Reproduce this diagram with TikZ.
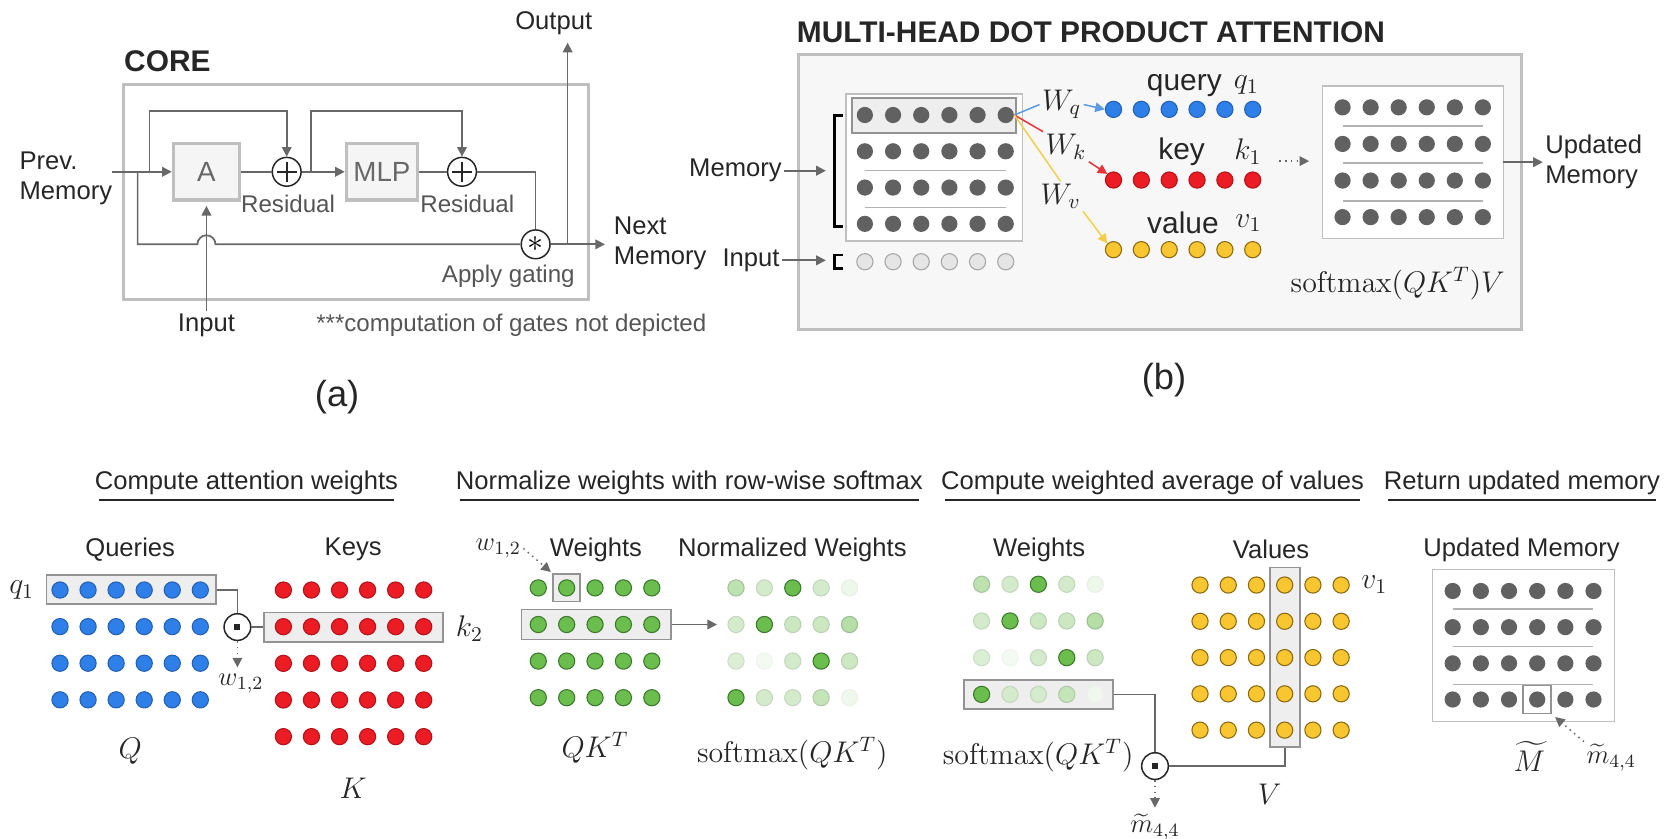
\RequirePackage{fix-cm}
\documentclass[tikz,border=0pt]{standalone}
\usepackage[no-math]{fontspec}
\setmainfont{Liberation Sans}
\usepackage{amsmath}
\usepackage{xcolor}
\usepackage{tikz}
\usetikzlibrary{arrows.meta,calc}

\definecolor{inkgray}{HTML}{686868}
\definecolor{framegray}{HTML}{BFBFBF}
\definecolor{panelfill}{HTML}{F7F7F7}
\definecolor{hlfill}{HTML}{EEEEEE}
\definecolor{txtdark}{HTML}{262626}
\definecolor{txtmid}{HTML}{555555}
\definecolor{dotblue}{HTML}{2F7FE8}
\definecolor{edgeblue}{HTML}{2461B5}
\definecolor{dotred}{HTML}{EC1C24}
\definecolor{edgered}{HTML}{B5121A}
\definecolor{dotyellow}{HTML}{F8C630}
\definecolor{edgeyellow}{HTML}{8C6A10}
\definecolor{dotgreen}{HTML}{6BBE4E}
\definecolor{edgegreen}{HTML}{3B7A2B}
\definecolor{dotgray}{HTML}{616161}
\definecolor{arrblue}{HTML}{5B9BE6}
\definecolor{arrred}{HTML}{E8323A}
\definecolor{arryellow}{HTML}{F2CF4A}

\begin{document}
\begin{tikzpicture}[
    x=0.5pt,
    y=-0.5pt,
    >={Triangle[length=4.5pt,width=4.5pt]},
    wire/.style={draw=inkgray, line width=0.8pt},
    arr/.style={wire, ->},
    dotarr/.style={->, draw=inkgray, line width=0.7pt, dotted},
    frame/.style={draw=framegray, line width=1.4pt},
    thinframe/.style={draw=framegray, line width=0.7pt, fill=white},
    hlbox/.style={draw=gray!85, fill=hlfill, line width=0.8pt, inner sep=0pt},
    opbox/.style={draw=framegray, fill=hlfill!60, line width=1.5pt,
                  minimum width=31pt, minimum height=26.5pt,
                  font=\fontsize{13}{15}\selectfont, text=inkgray},
    opcirc/.style={circle, draw=black!85, line width=0.7pt, fill=white,
                   minimum size=13.5pt, inner sep=0pt},
    plus/.style={opcirc, path picture={
        \draw[line width=0.9pt] ([xshift=-4.6pt]path picture bounding box.center)
          -- ([xshift=4.6pt]path picture bounding box.center);
        \draw[line width=0.9pt] ([yshift=-4.6pt]path picture bounding box.center)
          -- ([yshift=4.6pt]path picture bounding box.center);}},
    dotop/.style={opcirc, minimum size=12.5pt, path picture={
        \fill[black!85] ([shift={(-1.4pt,-1.4pt)}]path picture bounding box.center)
          rectangle ([shift={(1.4pt,1.4pt)}]path picture bounding box.center);}},
    dot/.style={circle, minimum size=7.6pt, inner sep=0pt, line width=0.5pt},
    bdot/.style={dot, fill=dotblue, draw=edgeblue},
    rdot/.style={dot, fill=dotred, draw=edgered},
    ydot/.style={dot, fill=dotyellow, draw=edgeyellow},
    gdot/.style={dot, fill=dotgreen, draw=edgegreen},
    mdot/.style={dot, fill=dotgray},
    idot/.style={dot, fill=black!10, draw=black!35},
    lbl/.style={font=\fontsize{12}{14}\selectfont, text=txtdark, inner sep=1pt},
    sublbl/.style={font=\fontsize{11.3}{13}\selectfont, text=txtmid, inner sep=1pt},
    hdr/.style={font=\fontsize{14}{16}\selectfont\bfseries, text=txtdark, inner sep=0pt},
    sechdr/.style={font=\fontsize{12}{14}\selectfont, text=txtdark, inner sep=1pt},
    mathlbl/.style={font=\fontsize{14}{16}\selectfont, text=txtdark, inner sep=1pt},
    smallmath/.style={font=\fontsize{12.5}{14}\selectfont, text=txtdark, inner sep=1pt},
    panellbl/.style={font=\fontsize{17}{20}\selectfont, text=txtdark},
    sepline/.style={draw=gray!60, line width=0.7pt},
    uline/.style={draw=txtdark, line width=0.8pt, shorten <=3pt, shorten >=3pt},
]
\newcommand{\dotmat}[8]{%
  \foreach \ri in {1,...,#6}{
    \foreach \ci in {1,...,#5}{
      \node[#2] (#1-\ri-\ci) at ({#3+(\ci-1)*#7},{#4+(\ri-1)*#8}) {};
    }
  }
}
\newcommand{\softmat}[4]{%
  \foreach \row [count=\ri] in {{45,30,100,30,12},{30,100,35,35,50},{25,8,30,100,35},{100,30,30,40,10}}{
    \foreach \pv [count=\ci] in \row {
      \node[gdot, fill=dotgreen!\pv!white, draw=edgegreen!\pv!white]
        (#1-\ri-\ci) at ({#2+(\ci-1)*26.6},{#3+(\ri-1)*#4}) {};
    }
  }
}
\useasboundingbox (0,0) rectangle (1568,786);

% (a) core
\node[hdr, anchor=west] (coreT) at (116,57) {CORE};
\draw[frame] (116,79) rectangle (552,281);
\node[opbox] (A) at (193.5,161) {A};
\node[plus] (p1) at (268.7,161) {};
\node[opbox] (mlp) at (358,161) {MLP};
\node[plus] (p2) at (433,161) {};
\node[opcirc, font=\fontsize{15}{15}\selectfont] (gate) at (502,229) {$\ast$};
\node[lbl, align=left, anchor=west] (prev) at (16,167) {Prev.\\Memory};
\node[lbl, align=left, anchor=west] (next) at (573,228) {Next\\Memory};
\node[lbl] (out) at (519,22) {Output};
\node[lbl] (inp) at (193.5,305) {Input};
\node[sublbl] (res1) at (270,191) {Residual};
\node[sublbl] (res2) at (438,191) {Residual};
\node[sublbl, anchor=east] (gating) at (541,259) {Apply gating};
\node[sublbl, anchor=west] (note) at (294,305) {***computation of gates not depicted};
\node[panellbl] (lblA) at (316,372) {(a)};
\coordinate (pin) at (105,161);
\coordinate (br1) at (140,161);
\coordinate (br2) at (291.5,161);
\coordinate (br3) at (129,161);
\coordinate (ovr) at (0,104);
\coordinate (hop) at (185,229);
\coordinate (obr) at (532,229);
\coordinate (outtip) at (532,40);
\coordinate (nexttip) at (567,229);
\draw[arr] (pin) -- (A);
\draw[arr] (br1) -- (br1 |- ovr) -| (p1);
\draw[wire] (A) -- (p1);
\draw[arr] (p1) -- (mlp);
\draw[arr] (br2) -- (br2 |- ovr) -| (p2);
\draw[wire] (mlp) -- (p2);
\draw[wire] (p2) -| (gate);
\draw[wire] (br3) |- (hop) arc[start angle=180, end angle=360, radius=8.5] -- (gate);
\draw[arr] (gate) -- (nexttip);
\draw[arr] (obr) -- (outtip);
\draw[arr, shorten >=2pt] (inp) -- (A);

% (b) multi-head attention
\node[hdr, anchor=west] (mhdpaT) at (746.5,30) {MULTI-HEAD DOT PRODUCT ATTENTION};
\draw[frame, fill=panelfill] (748.5,51) rectangle (1425.6,309);
\draw[thinframe] (792.8,88) rectangle (958.4,226);
\node[hlbox, minimum width=76.9pt, minimum height=16.4pt] (memhl) at (875.6,108) {};
\dotmat{mem}{mdot}{810.6}{107.8}{6}{4}{26.4}{34}
\foreach \yy in {160,194.7}{
  \draw[sepline] (810.6,\yy) -- (942.5,\yy);
}
\dotmat{inrow}{idot}{810.6}{245.3}{6}{1}{26.4}{0}
\draw[line width=1.3pt] (790,108) -- (782,108) -- (782,212.5) -- (790,212.5);
\draw[line width=1.3pt] (790,239) -- (782,239) -- (782,251.5) -- (790,251.5);
\node[lbl, anchor=east] (memL) at (735,160) {Memory};
\node[lbl, anchor=east] (inL) at (733,244) {Input};
\coordinate (membr) at (774,160);
\coordinate (inbr) at (774,244);
\draw[arr] (memL) -- (membr);
\draw[arr] (inL) -- (inbr);
\dotmat{qv}{bdot}{1043.6}{102.5}{6}{1}{26.1}{0}
\dotmat{kv}{rdot}{1043.6}{168.75}{6}{1}{26.1}{0}
\dotmat{vv}{ydot}{1043.6}{234}{6}{1}{26.1}{0}
\node[mathlbl] (qT) at (1110,80) {query};
\node[mathlbl] (q1) at (1168,80) {$q_1$};
\node[mathlbl] (kT) at (1107.5,142) {key};
\node[mathlbl] (k1) at (1169.6,142) {$k_1$};
\node[mathlbl] (vT) at (1108.7,209) {value};
\node[mathlbl] (v1) at (1170,209) {$v_1$};
\node[mathlbl] (Wq) at (995,98) {$W_q$};
\node[mathlbl] (Wk) at (999,137.5) {$W_k$};
\node[mathlbl] (Wv) at (994,184) {$W_v$};
\draw[draw=arrblue, line width=0.7pt] (mem-1-6.east) -- (Wq.west);
\draw[draw=arrblue, line width=0.7pt, ->] (Wq.east) -- (qv-1-1.west);
\draw[draw=arrred, line width=0.7pt] (mem-1-6.east) -- (Wk.north west);
\draw[draw=arrred, line width=0.7pt, ->] (Wk.south east) -- (kv-1-1.north west);
\draw[draw=arryellow, line width=0.7pt] (mem-1-6.east) -- (Wv.north);
\draw[draw=arryellow, line width=0.7pt, ->] (Wv.south east) -- (vv-1-1.north west);
\coordinate (dots0) at (1199,151);
\coordinate (dots1) at (1227,151);
\draw[dotarr] (dots0) -- (dots1);
\draw[thinframe] (1239.3,80.6) rectangle (1409,223.4);
\dotmat{upd}{mdot}{1258.3}{100.6}{6}{4}{26.3}{34.3}
\foreach \yy in {118,153,188.4}{
  \draw[sepline] (1258.3,\yy) -- (1390,\yy);
}
\coordinate (updout) at (1409,152);
\node[lbl, align=left, anchor=west] (updT) at (1446,152) {Updated\\Memory};
\draw[arr] (updout) -- (updT.west);
\node[mathlbl] (smxV) at (1310,266) {$\mathrm{softmax}(QK^T)V$};
\node[panellbl] (lblB) at (1091,356) {(b)};

% attention weights
\node[sechdr] (h1) at (231,453) {Compute attention weights};
\draw[uline] ([yshift=-1pt]h1.south west) -- ([yshift=-1pt]h1.south east);
\node[lbl] (queriesT) at (122,515) {Queries};
\node[lbl] (keysT) at (331,515) {Keys};
\node[hlbox, minimum width=79.4pt, minimum height=13.7pt] (qbox) at (123.1,552.7) {};
\node[hlbox, minimum width=84pt, minimum height=13.7pt] (kbox) at (331.5,587.7) {};
\dotmat{Q}{bdot}{56.25}{553}{6}{4}{26.3}{34.3}
\dotmat{K}{rdot}{265.6}{553}{6}{5}{26.3}{34.35}
\node[dotop] (qk) at (222.5,587.7) {};
\draw[wire] (qbox.east) -| (qk.north);
\draw[wire] (qk.east) -- (kbox.west);
\coordinate (w12tip) at (222.5,625.5);
\draw[dotarr] (qk.south) -- (w12tip);
\node[smallmath] (w12a) at (225.6,641) {$w_{1,2}$};
\node[mathlbl] (q1b) at (20.3,553) {$q_1$};
\node[mathlbl] (k2) at (440,589) {$k_2$};
\node[mathlbl] (Qm) at (122,704.5) {$Q$};
\node[mathlbl] (Km) at (331,739) {$K$};

% row-wise softmax
\node[sechdr] (h2) at (646,453) {Normalize weights with row-wise softmax};
\draw[uline] ([yshift=-1pt]h2.south west) -- ([yshift=-1pt]h2.south east);
\node[lbl] (wT) at (558.6,515) {Weights};
\node[lbl] (nwT) at (742.6,515) {Normalized Weights};
\node[hlbox, minimum width=12.5pt, minimum height=12.8pt] (w12box) at (531.1,551) {};
\node[hlbox, minimum width=70pt, minimum height=14pt] (k2box) at (558.9,585.3) {};
\dotmat{W}{gdot}{504.5}{551}{5}{4}{26.6}{34.3}
\softmat{NW}{689.8}{551}{34.3}
\node[smallmath] (w12b) at (467,514) {$w_{1,2}$};
\draw[dotarr, shorten >=1pt] (w12b.east) -- (w12box.north west);
\coordinate (nwtip) at (672,585.3);
\draw[arr] (k2box.east) -- (nwtip);
\node[mathlbl] (QKT) at (557.6,701) {$QK^T$};
\node[mathlbl] (smx1) at (742.6,706) {$\mathrm{softmax}(QK^T)$};

% weighted average
\node[sechdr] (h3) at (1080.2,453) {Compute weighted average of values};
\draw[uline] ([yshift=-1pt]h3.south west) -- ([yshift=-1pt]h3.south east);
\node[lbl] (w2T) at (974,515) {Weights};
\node[lbl] (valT) at (1191.3,515) {Values};
\node[hlbox, minimum width=70pt, minimum height=13.75pt] (wrow) at (973.2,651) {};
\node[hlbox, minimum width=14pt, minimum height=84pt] (vcol) at (1204.1,616) {};
\softmat{SW}{920}{547.6}{34.4}
\dotmat{V}{ydot}{1124.7}{548.3}{6}{5}{26.45}{34}
\node[dotop] (wv) at (1082.5,718) {};
\draw[wire] (wrow.east) -| (wv.north);
\draw[wire] (wv.east) -| (vcol.south);
\coordinate (m44tip) at (1082.5,757);
\draw[dotarr] (wv.south) -- (m44tip);
\node[smallmath] (m44a) at (1082.5,775) {$\widetilde{m}_{4,4}$};
\node[mathlbl] (smx2) at (973,708) {$\mathrm{softmax}(QK^T)$};
\node[mathlbl] (Vm) at (1190,744) {$V$};
\node[mathlbl] (v1b) at (1288,548) {$v_1$};

% updated memory
\node[sechdr] (h4) at (1426.5,453) {Return updated memory};
\draw[uline] ([yshift=-1pt]h4.south west) -- ([yshift=-1pt]h4.south east);
\node[lbl] (umT) at (1426,515) {Updated Memory};
\draw[thinframe] (1342.4,533.6) rectangle (1513,676.4);
\dotmat{U}{mdot}{1361.5}{553.9}{6}{4}{26.4}{33.9}
\foreach \yy in {571,606,641.4}{
  \draw[sepline] (1361.5,\yy) -- (1493.4,\yy);
}
\node[draw=gray!85, line width=0.8pt, minimum size=13pt, inner sep=0pt] (m44box) at (1440.7,655.6) {};
\node[mathlbl] (Mt) at (1433.4,709) {$\widetilde{M}$};
\node[smallmath] (m44b) at (1510,710) {$\widetilde{m}_{4,4}$};
\draw[dotarr, shorten >=2pt] (m44b.north west) -- (m44box.south east);
\end{tikzpicture}
\end{document}
